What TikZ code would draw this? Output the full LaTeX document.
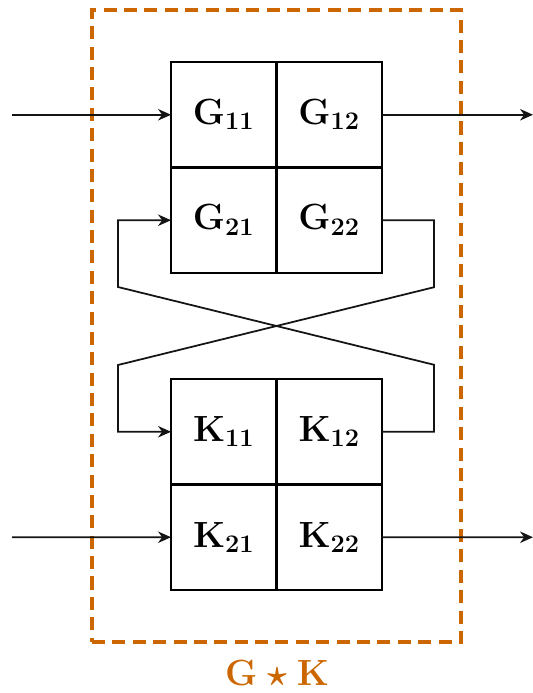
\documentclass[tikz,border=0pt]{standalone}
\usepackage{amsmath,amssymb}
\usetikzlibrary{arrows.meta, positioning}
\definecolor{frameorange}{RGB}{204, 102, 0}
\definecolor{wiregray}{RGB}{20, 20, 20}

\begin{document}
\begin{tikzpicture}[
    x=0.02cm, y=-0.02cm,
    node distance=0pt,
    >={Stealth[length=2.6mm, width=2.3mm]},
    cell/.style={draw, line width=1.3pt, minimum size=2.11cm, outer sep=0pt,
                 inner sep=0pt, font=\fontsize{22.5}{27}\selectfont\boldmath},
    frame/.style={draw=frameorange, line width=2pt,
                  dash pattern=on 7.4pt off 4.2pt, minimum width=7.38cm,
                  minimum height=12.64cm, inner sep=0pt},
    arr/.style={->, line width=1pt, color=wiregray},
]
\useasboundingbox (0,0) rectangle (533,693);

% --- Outer frame ---
\node[frame] (frm) at (276.5,326) {};
\node[font=\huge\boldmath, text=frameorange, inner sep=0pt] (lbl)
      at (277,673) {$\mathbf{G}\star\mathbf{K}$};

% --- G block ---
\node[cell] (G11) at (223.75,114.75) {$\mathbf{G}_{11}$};
\node[cell, right=of G11] (G12) {$\mathbf{G}_{12}$};
\node[cell, below=of G11] (G21) {$\mathbf{G}_{21}$};
\node[cell, right=of G21] (G22) {$\mathbf{G}_{22}$};

% --- K block ---
\node[cell] (K11) at (223.75,431.75) {$\mathbf{K}_{11}$};
\node[cell, right=of K11] (K12) {$\mathbf{K}_{12}$};
\node[cell, below=of K11] (K21) {$\mathbf{K}_{21}$};
\node[cell, right=of K21] (K22) {$\mathbf{K}_{22}$};

% --- Free ends ---
\coordinate (inG)  at (12,114.75);
\coordinate (outG) at (533,114.75);
\coordinate (inK)  at (12,537.25);
\coordinate (outK) at (533,537.25);

% ---- Arrows ----
\draw[arr] (inG) -- (G11);
\draw[arr] (G12) -- (outG);
\draw[arr] (inK) -- (K21);
\draw[arr] (K22) -- (outK);

% --- Feedback crossing ---
\draw[arr] (G22.east) -- ++(52,0) -- ++(0,67) -- (118,365) |- (K11.west);
\draw[arr] (K12.east) -- ++(52,0) -- ++(0,-67) -- (118,287) |- (G21.west);

\end{tikzpicture}
\end{document}
